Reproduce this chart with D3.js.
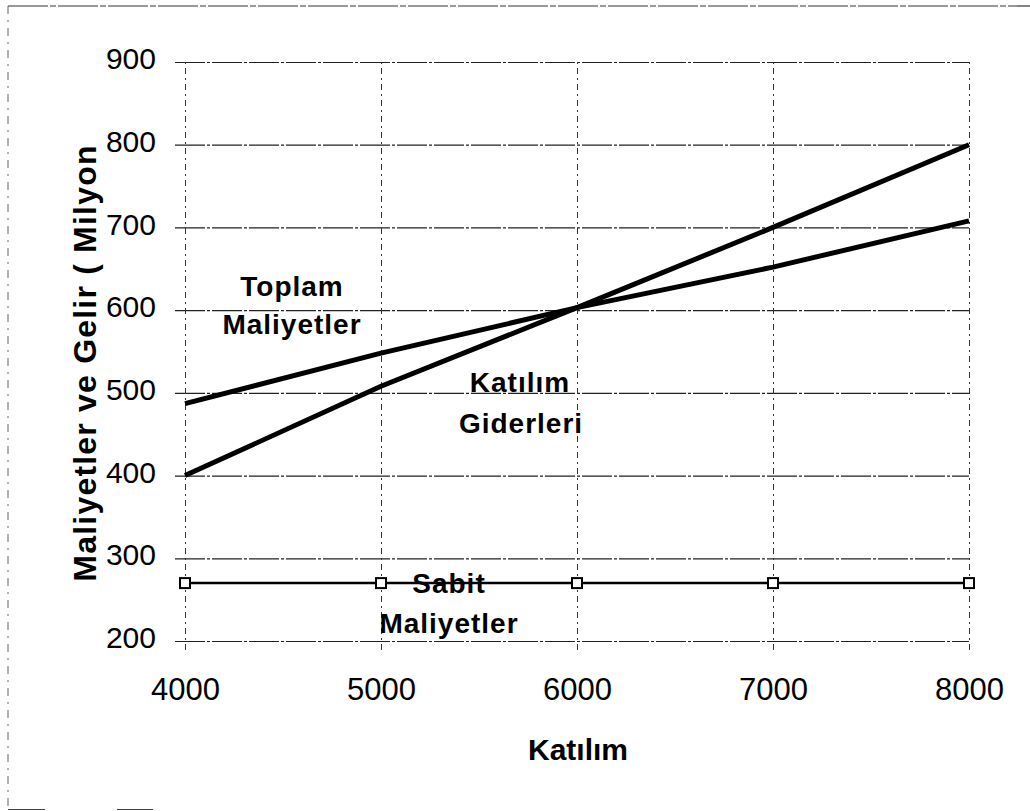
<!DOCTYPE html>
<html>
<head>
<meta charset="utf-8">
<script src="https://cdn.jsdelivr.net/npm/d3@7"></script>
<style>
  body { margin: 0; background: #fff; }
  svg { display: block; font-family: Arial, "Liberation Sans", sans-serif; }
</style>
</head>
<body>
<svg id="chart"></svg>
<script>
const katilim = [4000, 5000, 6000, 7000, 8000];
const toplamMaliyetler = [487, 548, 603, 652, 708];
const katilimGiderleri = [400, 508, 603, 700, 800];
const sabitMaliyetler = [270, 270, 270, 270, 270];
const yTicks = [200, 300, 400, 500, 600, 700, 800, 900];

const width = 1030;
const height = 811;
const margin = { top: 62, right: 61, bottom: 170, left: 185 };

const svg = d3.select("#chart").attr("width", width).attr("height", height);

const innerWidth = width - margin.left - margin.right;
const innerHeight = height - margin.top - margin.bottom;

// scanned page frame: top and left edges only
svg.append("line")
  .attr("x1", 8).attr("x2", width).attr("y1", 6).attr("y2", 6)
  .attr("stroke", "#333").attr("stroke-width", 1.2).attr("stroke-dasharray", "40,2,6,2");
svg.append("line")
  .attr("x1", 8).attr("x2", 8).attr("y1", 6).attr("y2", height - 2)
  .attr("stroke", "#666").attr("stroke-width", 1).attr("stroke-dasharray", "8,6,2,6");
svg.append("line")
  .attr("x1", 8).attr("x2", 45).attr("y1", height - 1.5).attr("y2", height - 1.5)
  .attr("stroke", "#444").attr("stroke-width", 1);
svg.append("line")
  .attr("x1", 117).attr("x2", 153).attr("y1", height - 1.5).attr("y2", height - 1.5)
  .attr("stroke", "#444").attr("stroke-width", 1);

const chartArea = svg.append("g").attr("transform", `translate(${margin.left},${margin.top})`);

const xScale = d3.scaleLinear().domain([4000, 8000]).range([0, innerWidth]);
const yScale = d3.scaleLinear().domain([200, 900]).range([innerHeight, 0]);

// horizontal gridlines + y axis
const yAxis = chartArea.append("g")
  .attr("transform", "translate(-10,0)")
  .call(d3.axisLeft(yScale).tickValues(yTicks).tickSize(0).tickPadding(19).tickFormat(d3.format("d")));
yAxis.select(".domain").remove();
yAxis.selectAll(".tick line")
  .attr("x1", 0).attr("x2", 10 + innerWidth)
  .attr("stroke", "#222").attr("stroke-width", 1.2).attr("stroke-dasharray", "30,2,3,2");
yAxis.selectAll("text").attr("dy", "0.22em").style("font-size", "30px").style("fill", "#000");

// vertical gridlines + x axis
const xAxis = chartArea.append("g")
  .attr("transform", `translate(0,${innerHeight + 9})`)
  .call(d3.axisBottom(xScale).tickValues(katilim).tickSize(0).tickFormat(d3.format("d")));
xAxis.select(".domain").remove();
xAxis.selectAll(".tick line")
  .attr("y1", 0).attr("y2", -innerHeight - 9)
  .attr("stroke", "#333").attr("stroke-width", 1).attr("stroke-dasharray", "6,4,2,4");
xAxis.selectAll("text").attr("y", 50).attr("dy", null).style("font-size", "31px").style("fill", "#000");

// lines
const rows = katilim.map((k, i) => ({ k, t: toplamMaliyetler[i], g: katilimGiderleri[i], s: sabitMaliyetler[i] }));

const mkLine = (field) => d3.line().x((d) => xScale(d.k)).y((d) => yScale(d[field]));

chartArea.append("path").datum(rows)
  .attr("fill", "none").attr("stroke", "#000").attr("stroke-width", 5)
  .attr("d", mkLine("t"));

chartArea.append("path").datum(rows)
  .attr("fill", "none").attr("stroke", "#000").attr("stroke-width", 5)
  .attr("d", mkLine("g"));

chartArea.append("path").datum(rows)
  .attr("fill", "none").attr("stroke", "#000").attr("stroke-width", 2.5)
  .attr("d", mkLine("s"));

chartArea.selectAll(".mark")
  .data(rows)
  .enter()
  .append("rect")
  .attr("class", "mark")
  .attr("x", (d) => xScale(d.k) - 5)
  .attr("y", (d) => yScale(d.s) - 5)
  .attr("width", 10)
  .attr("height", 10)
  .attr("fill", "#fff")
  .attr("stroke", "#000")
  .attr("stroke-width", 2);

// series labels (baseline positions)
const labels = [
  { text: "Toplam", x: 292, y: 296 },
  { text: "Maliyetler", x: 292, y: 334 },
  { text: "Katılım", x: 520, y: 392 },
  { text: "Giderleri", x: 521, y: 433 },
  { text: "Sabit", x: 449, y: 593 },
  { text: "Maliyetler", x: 449, y: 633 },
];
svg.selectAll(".lbl")
  .data(labels)
  .enter()
  .append("text")
  .attr("class", "lbl")
  .attr("x", (d) => d.x)
  .attr("y", (d) => d.y)
  .attr("text-anchor", "middle")
  .style("font-size", "28px")
  .style("font-weight", "bold")
  .style("letter-spacing", "1px")
  .text((d) => d.text);

// x-axis title
svg.append("text")
  .attr("text-anchor", "middle")
  .attr("x", 578)
  .attr("y", 760)
  .style("font-size", "30px")
  .style("font-weight", "bold")
  .text("Katılım");

// y-axis title
svg.append("text")
  .attr("text-anchor", "middle")
  .attr("transform", "rotate(-90)")
  .attr("x", -363)
  .attr("y", 96)
  .style("font-size", "32px")
  .style("font-weight", "bold")
  .style("letter-spacing", "1.2px")
  .text("Maliyetler ve Gelir ( Milyon");
</script>
</body>
</html>
